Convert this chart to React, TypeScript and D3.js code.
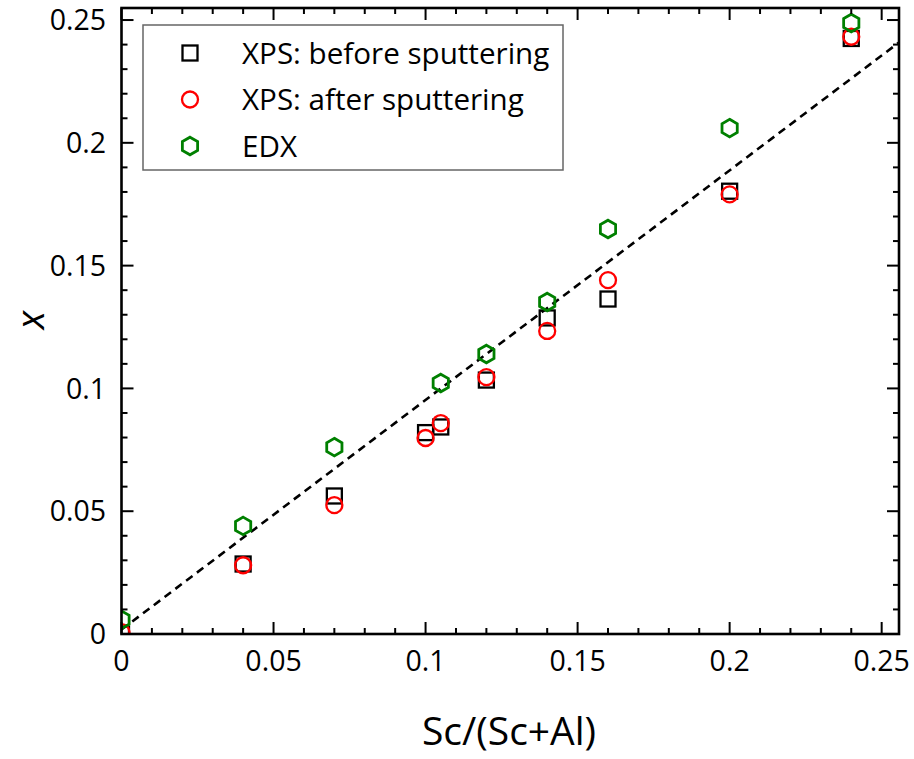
import React from "react";
import * as d3 from "d3";

const xVals = [0, 0.04, 0.07, 0.1, 0.105, 0.12, 0.14, 0.16, 0.2, 0.24];
const xpsBefore = [0, 0.0285, 0.0562, 0.082, 0.0843, 0.1034, 0.1287, 0.1364, 0.1803, 0.2425];
const xpsAfter = [0.0008, 0.028, 0.0525, 0.0798, 0.0859, 0.1046, 0.1234, 0.1441, 0.179, 0.2432];
const edx = [0.0058, 0.044, 0.0761, 0.1022, 0.114, 0.1352, 0.1649, 0.206, 0.2488];
const edxX = [0, 0.04, 0.07, 0.105, 0.12, 0.14, 0.16, 0.2, 0.24];
const fitSlope = 0.935;
const fitIntercept = 0.0018;
const majorTicks = [0, 0.05, 0.1, 0.15, 0.2, 0.25];
const majorLabels = ["0", "0.05", "0.1", "0.15", "0.2", "0.25"];
const legendLabels = ["XPS: before sputtering", "XPS: after sputtering", "EDX"];

const FONT = "'Open Sans', 'Noto Sans', sans-serif";

const hexPath = (r: number) => {
  const pts: [number, number][] = [];
  for (let i = 0; i < 6; i++) {
    const a = -Math.PI / 2 + (i * Math.PI) / 3;
    pts.push([r * Math.cos(a), r * Math.sin(a)]);
  }
  return d3.line()(pts) + "Z";
};

const Square = ({ cx, cy }: { cx: number; cy: number }) => (
  <rect x={cx - 7.5} y={cy - 7.5} width={15} height={15} fill="none" stroke="#000" strokeWidth={2.3} />
);
const Circle = ({ cx, cy }: { cx: number; cy: number }) => (
  <circle cx={cx} cy={cy} r={8} fill="none" stroke="#ff0000" strokeWidth={2.3} />
);
const Hex = ({ cx, cy }: { cx: number; cy: number }) => (
  <path d={hexPath(8.8)} transform={`translate(${cx},${cy})`} fill="none" stroke="#008000" strokeWidth={2.8} />
);

export default function App() {
  const W = 914, H = 759;
  const left = 121.5, right = 899, top = 8, bottom = 634;
  const x = d3.scaleLinear().domain([0, 0.2557]).range([left, right]);
  const y = d3.scaleLinear().domain([0, 0.2549]).range([bottom, top]);
  const minor = d3.range(0, 0.2551, 0.01).map((v) => +v.toFixed(3));
  const isMajor = (v: number) => Math.abs(v / 0.05 - Math.round(v / 0.05)) < 1e-6;
  const xMax = x.domain()[1];
  const fitLine = d3.line<number>()
    .x((v) => x(v))
    .y((v) => y(fitSlope * v + fitIntercept));

  const MAJ = 12, MIN = 6;

  return (
    <svg width={W} height={H} style={{ position: "absolute", left: 0, top: 0 }} fontFamily={FONT}>
      <rect width={W} height={H} fill="#fff" />
      <defs>
        <clipPath id="plot">
          <rect x={left} y={top} width={right - left} height={bottom - top} />
        </clipPath>
      </defs>
      <g clipPath="url(#plot)">
        <path d={fitLine([0, xMax]) || ""} fill="none" stroke="#000" strokeWidth={2.6} strokeDasharray="8,5.5" />
        {xVals.map((v, i) => (
          <Square key={"s" + i} cx={x(v)} cy={y(xpsBefore[i])} />
        ))}
        {xVals.map((v, i) => (
          <Circle key={"c" + i} cx={x(v)} cy={y(xpsAfter[i])} />
        ))}
        {edxX.map((v, i) => (
          <Hex key={"h" + i} cx={x(v)} cy={y(edx[i])} />
        ))}
      </g>
      {/* ticks */}
      <g stroke="#000" strokeWidth={2}>
        {minor.map((v) => {
          const L = isMajor(v) ? MAJ : MIN;
          const px = x(v), py = y(v);
          return (
            <g key={"t" + v}>
              <line x1={px} x2={px} y1={bottom} y2={bottom - L} />
              <line x1={px} x2={px} y1={top} y2={top + L} />
              <line x1={left} x2={left + L} y1={py} y2={py} />
              <line x1={right} x2={right - L} y1={py} y2={py} />
            </g>
          );
        })}
      </g>
      <rect x={left} y={top} width={right - left} height={bottom - top} fill="none" stroke="#000" strokeWidth={2.6} />
      {/* tick labels */}
      <g fontSize={28.5} fill="#000">
        {majorTicks.map((v, i) => (
          <text key={"xl" + i} x={x(v)} y={671} textAnchor="middle">{majorLabels[i]}</text>
        ))}
        {majorTicks.map((v, i) => (
          <text key={"yl" + i} x={106} y={y(v)} dy="0.36em" textAnchor="end">{majorLabels[i]}</text>
        ))}
      </g>
      <text x={509} y={745} textAnchor="middle" fontSize={39} fill="#000">Sc/(Sc+Al)</text>
      <text transform="translate(44,320) rotate(-90)" textAnchor="middle" fontSize={38} fontStyle="italic" fill="#000">x</text>
      {/* legend */}
      <rect x={143} y={25} width={420} height={145} fill="#fff" stroke="#666" strokeWidth={1.5} />
      {legendLabels.map((t, i) => {
        const cy = 53 + i * 46.5;
        return (
          <g key={"lg" + i}>
            {i === 0 && <Square cx={190} cy={cy} />}
            {i === 1 && <Circle cx={190} cy={cy} />}
            {i === 2 && <Hex cx={190} cy={cy} />}
            <text x={242} y={cy} dy="0.36em" fontSize={29.6} fill="#000">{t}</text>
          </g>
        );
      })}
    </svg>
  );
}
